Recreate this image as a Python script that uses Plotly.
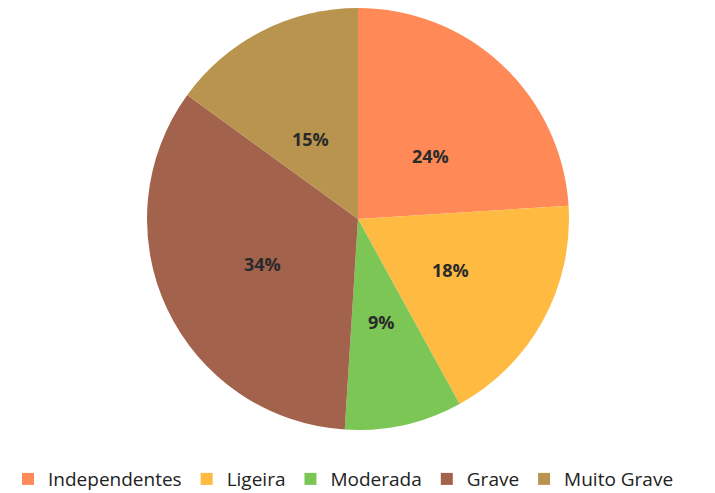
import numpy as np
import plotly.graph_objects as go

# severity categories and shares (%)
labels = ["Independentes", "Ligeira", "Moderada", "Grave", "Muito Grave"]
values = [24, 18, 9, 34, 15]
colors = ["#FF8A58", "#FFBA42", "#7CC655", "#A2624C", "#B8944F"]

W, H = 715, 493
dom_x = [0.1944, 0.7846]
dom_y = [0.144, 1.0]

fig = go.Figure()

fig.add_trace(
    go.Pie(
        labels=labels,
        values=values,
        sort=False,
        direction="clockwise",
        rotation=0,
        marker=dict(colors=colors, line=dict(width=0)),
        textinfo="none",
        domain=dict(x=dom_x, y=dom_y),
        hoverinfo="label+percent",
    )
)

# percent labels at half radius on each slice bisector (like Excel's "center" labels)
vals = np.array(values, dtype=float)
share = vals / vals.sum()
mid = (np.cumsum(share) - share / 2) * 2 * np.pi
cx = (dom_x[0] + dom_x[1]) / 2
cy = (dom_y[0] + dom_y[1]) / 2
r_px = min((dom_x[1] - dom_x[0]) * W, (dom_y[1] - dom_y[0]) * H) / 2
for s, a in zip(share, mid):
    fig.add_annotation(
        x=cx + 0.5 * r_px * np.sin(a) / W,
        y=cy + 0.5 * r_px * np.cos(a) / H,
        xref="paper",
        yref="paper",
        text=f"<b>{s:.0%}</b>",
        showarrow=False,
        font=dict(family="Open Sans", size=18, color="#2a2a2a"),
    )

fig.update_layout(
    width=W,
    height=H,
    margin=dict(l=0, r=0, t=0, b=0, autoexpand=False),
    paper_bgcolor="white",
    plot_bgcolor="white",
    font=dict(family="Open Sans", color="#222222"),
    showlegend=True,
    legend=dict(
        orientation="h",
        x=0.0,
        xanchor="left",
        y=0.006,
        yanchor="bottom",
        font=dict(family="Open Sans", size=19, color="#222222"),
        itemwidth=30,
        traceorder="normal",
    ),
)

fig.write_html("out.html")
